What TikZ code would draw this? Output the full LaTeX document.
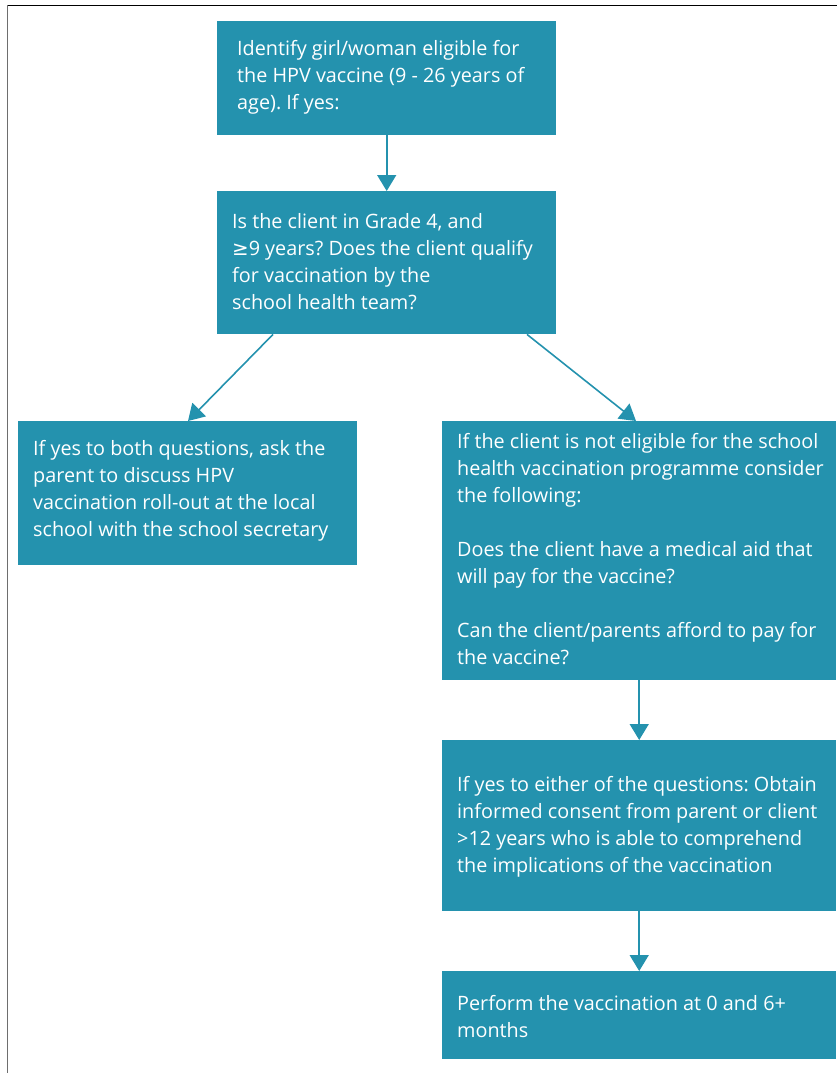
\documentclass[tikz,border=0pt]{standalone}
\usepackage{fontspec}
\setmainfont{Open Sans}
\newfontfamily\symfont{DejaVu Sans}
\usetikzlibrary{arrows.meta,calc}
\definecolor{teal1}{RGB}{36,146,174}
\definecolor{frameg}{RGB}{110,110,110}
\tikzset{
  boxa/.style={fill=teal1, anchor=north west, inner sep=0pt},
  txt/.style={text=white, anchor=west, align=left, inner sep=0pt,
    font=\fontsize{19.8}{27}\selectfont\frenchspacing},
  arr/.style={draw=teal1, line width=1.6pt, -{Triangle[width=19pt,length=16pt]}}
}
\begin{document}
\begin{tikzpicture}[x=1pt,y=-1pt]
\useasboundingbox (0,0) rectangle (837,1073);
\draw[black, line width=1.3pt] (7,5.5) -- (837,5.5);
\draw[frameg, line width=1.1pt] (7.5,5) -- (7.5,1073);

\node[boxa, minimum width=339pt, minimum height=114pt] (b1) at (217,21) {};
\node[boxa, minimum width=339pt, minimum height=143pt] (b2) at (217,191) {};
\node[boxa, minimum width=339pt, minimum height=144pt] (b3) at (18,421) {};
\node[boxa, minimum width=394pt, minimum height=259pt] (b4) at (442,421) {};
\node[boxa, minimum width=394pt, minimum height=171pt] (b5) at (442,740) {};
\node[boxa, minimum width=394pt, minimum height=88pt] (b6) at (442,971) {};

\node[txt] (t1) at ([xshift=20pt,yshift=1pt]b1.west)
  {Identify girl/woman eligible for\\the HPV vaccine (9 - 26 years of\\age). If yes:};
\node[txt] (t2) at ([xshift=15pt,yshift=1pt]b2.west)
  {Is the client in Grade 4, and\\{\symfont ≥}9 years? Does the client qualify\\for vaccination by the\\school health team?};
\node[txt] (t3) at ([xshift=15pt,yshift=2pt]b3.west)
  {If yes to both questions, ask the\\parent to discuss HPV\\vaccination roll-out at the local\\school with the school secretary};
\node[txt] (t4) at ([xshift=15pt,yshift=2pt]b4.west)
  {If the client is not eligible for the school\\health vaccination programme consider\\the following:\\[27pt]Does the client have a medical aid that\\will pay for the vaccine?\\[27pt]Can the client/parents afford to pay for\\the vaccine?};
\node[txt] (t5) at ([xshift=15pt,yshift=-1pt]b5.west)
  {If yes to either of the questions: Obtain\\informed consent from parent or client\\>12 years who is able to comprehend\\the implications of the vaccination};
\node[txt] (t6) at ([xshift=15pt,yshift=-1pt]b6.west)
  {Perform the vaccination at 0 and 6+\\months};

\draw[arr] (b1.south) -- (b2.north);
\draw[arr] ([xshift=56pt]b2.south west) -- ([xshift=170pt]b3.north west);
\draw[arr] ([xshift=310pt]b2.south west) -- ([xshift=194pt]b4.north west);
\draw[arr] (b4.south) -- (b5.north);
\draw[arr] (b5.south) -- (b6.north);
\end{tikzpicture}
\end{document}
